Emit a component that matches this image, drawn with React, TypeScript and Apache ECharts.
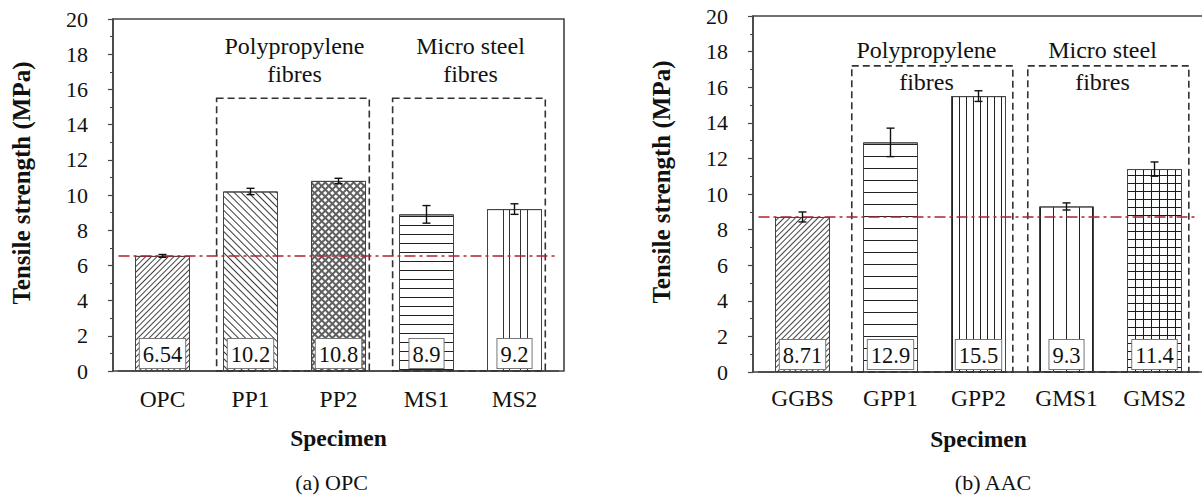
import { useEffect, useRef } from 'react';
import * as echarts from 'echarts';

// Splitting tensile strength of the plain and fibre-reinforced mixes
const opcSpecimens = ['OPC', 'PP1', 'PP2', 'MS1', 'MS2'];
const opcStrength = [6.54, 10.2, 10.8, 8.9, 9.2];
const opcDeviation = [0.08, 0.18, 0.15, 0.5, 0.3];

const aacSpecimens = ['GGBS', 'GPP1', 'GPP2', 'GMS1', 'GMS2'];
const aacStrength = [8.71, 12.9, 15.5, 9.3, 11.4];
const aacDeviation = [0.28, 0.8, 0.3, 0.2, 0.4];

// Fibre families, as index ranges into the specimen lists
const fibreGroups = ['Polypropylene\nfibres', 'Micro steel\nfibres'];
const fibreSpans = [
  [1, 2],
  [3, 4],
];
const opcGroupTop = 15.5;
const aacGroupTop = 17.2;

const strengthMin = 0;
const strengthMax = 20;
const strengthStep = 2;

const captions = ['(a) OPC', '(b) AAC'];
const yTitle = 'Tensile strength (MPa)';
const xTitle = 'Specimen';

const SERIF = "'Liberation Serif', 'Times New Roman', serif";
const INK = '#111';
const AXIS = '#444';
const REF_RED = '#b0232c';

type Fill = { base: string; decal: any };

const lines = (dx: number[], dy: number[], rotation: number, color: string, base = '#fff'): Fill => ({
  base,
  decal: {
    symbol: 'rect',
    symbolSize: 1,
    color,
    dashArrayX: [dx],
    dashArrayY: dy,
    rotation,
  },
});

// Fill patterns per bar (base colour + hatch overlay)
const opcFills = [
  lines([8, 0], [1, 3], -Math.PI / 4, '#444'),
  lines([8, 0], [1, 4], Math.PI / 4, '#3a3a3a'),
  lines([3, 2], [3, 2], Math.PI / 4, '#ffffff', '#606060'),
  lines([8, 0], [1, 8], 0, '#222'),
  lines([1, 6, 1, 15, 1, 5, 1, 10], [8, 0], 0, '#333'),
];
const aacFills = [
  lines([8, 0], [1, 3], -Math.PI / 4, '#444'),
  lines([8, 0], [1, 11], 0, '#222'),
  lines([1, 6], [8, 0], 0, '#222'),
  lines([1, 12], [8, 0], 0, '#222'),
  lines([7, 1], [7, 1], 0, '#ffffff', '#1a1a1a'),
];

type Layout = {
  gridLeft: number;
  gridTop: number;
  gridHeight: number;
  padL: number;
  padR: number;
  labelDx: number;
  labelDy: number;
  lineHeight: number;
  labelMargin: number;
};

const layouts: Layout[] = [
  { gridLeft: 118.5, gridTop: 19, gridHeight: 352, padL: 0.385, padR: 0.35, labelDx: 0, labelDy: -38, lineHeight: 28, labelMargin: 16 },
  { gridLeft: 758.5, gridTop: 16, gridHeight: 356, padL: 0.44, padR: 0.39, labelDx: -8, labelDy: 0, lineHeight: 32, labelMargin: 14 },
];
const GRID_W = 440;
const AXIS_SHIFT = 5.5;

function barSeries(idx: number, values: number[], fills: Fill[]) {
  return {
    type: 'bar',
    xAxisIndex: idx,
    yAxisIndex: idx,
    barWidth: 55,
    data: values.map((v, i) => ({
      value: v,
      itemStyle: { color: fills[i].base, decal: fills[i].decal },
    })),
    itemStyle: { borderColor: '#444', borderWidth: 1 },
    label: {
      show: true,
      position: 'insideBottom',
      distance: 3,
      color: INK,
      fontFamily: SERIF,
      fontSize: 22.5,
      lineHeight: 25,
      backgroundColor: '#fff',
      borderColor: '#777',
      borderWidth: 1,
      padding: [3, 3, 1, 3],
    },
  };
}

function errorSeries(idx: number, values: number[], devs: number[], ref: number) {
  return {
    type: 'custom',
    xAxisIndex: idx,
    yAxisIndex: idx,
    z: 6,
    data: values.map((v, i) => [i, v, devs[i]]),
    encode: { x: 0, y: 1 },
    renderItem: (_p: any, api: any) => {
      const i = api.value(0);
      const v = api.value(1);
      const d = api.value(2);
      const hi = api.coord([i, v + d]);
      const lo = api.coord([i, v - d]);
      const cap = 4;
      const style = { stroke: '#111', lineWidth: 1.4 };
      return {
        type: 'group',
        children: [
          { type: 'line', shape: { x1: hi[0], y1: hi[1], x2: lo[0], y2: lo[1] }, style },
          { type: 'line', shape: { x1: hi[0] - cap, y1: hi[1], x2: hi[0] + cap, y2: hi[1] }, style },
          { type: 'line', shape: { x1: lo[0] - cap, y1: lo[1], x2: lo[0] + cap, y2: lo[1] }, style },
        ],
      };
    },
    markLine: {
      silent: true,
      symbol: 'none',
      animation: false,
      data: [{ yAxis: ref }],
      lineStyle: { color: REF_RED, width: 1.7, type: [11, 4, 3, 4] },
      label: { show: false },
    },
  };
}

function groupSeries(idx: number, top: number, lay: Layout) {
  return {
    type: 'custom',
    xAxisIndex: idx,
    yAxisIndex: idx,
    z: 4,
    data: fibreSpans.map(([a, b], k) => [a, b, top, k]),
    encode: { x: 0, y: 2 },
    renderItem: (_p: any, api: any) => {
      const a = api.value(0);
      const b = api.value(1);
      const t = api.value(2);
      const k = api.value(3);
      const band = api.size([1, 0])[0];
      const p0 = api.coord([a, t]);
      const p1 = api.coord([b, 0]);
      const x0 = p0[0] - band * lay.padL;
      const x1 = p1[0] + band * lay.padR;
      return {
        type: 'group',
        children: [
          {
            type: 'rect',
            shape: { x: x0, y: p0[1], width: x1 - x0, height: p1[1] - p0[1] },
            style: { fill: 'none', stroke: '#333', lineWidth: 1.6, lineDash: [7, 4] },
          },
          {
            type: 'text',
            x: (p0[0] + p1[0]) / 2 + lay.labelDx,
            y: p0[1] + lay.labelDy,
            style: {
              text: fibreGroups[k],
              fill: INK,
              fontFamily: SERIF,
              fontSize: 24,
              lineHeight: lay.lineHeight,
              align: 'center',
              verticalAlign: 'middle',
            },
          },
        ],
      };
    },
  };
}

function xAxis(idx: number, cats: string[], lay: Layout) {
  return {
    type: 'category',
    gridIndex: idx,
    data: cats,
    axisLine: { show: true, lineStyle: { color: AXIS, width: 1.5 } },
    axisTick: { show: false },
    axisLabel: { color: INK, fontFamily: SERIF, fontSize: 23.5, margin: lay.labelMargin },
    name: xTitle,
    nameLocation: 'middle',
    nameGap: 55,
    nameTextStyle: { color: INK, fontFamily: SERIF, fontSize: 23.5, fontWeight: 'bold' },
  };
}

function yAxis(idx: number) {
  return {
    type: 'value',
    gridIndex: idx,
    min: strengthMin,
    max: strengthMax,
    interval: strengthStep,
    offset: AXIS_SHIFT,
    axisLine: { show: true, lineStyle: { color: AXIS, width: 1.5 } },
    axisTick: { show: true, length: 5, lineStyle: { color: AXIS, width: 1.2 } },
    minorTick: { show: true, splitNumber: 2, length: 3, lineStyle: { color: AXIS, width: 1 } },
    splitLine: { show: false },
    axisLabel: { color: INK, fontFamily: SERIF, fontSize: 22, margin: 25 },
    name: yTitle,
    nameLocation: 'middle',
    nameGap: 79,
    nameTextStyle: {
      color: INK,
      fontFamily: SERIF,
      fontSize: 25,
      fontWeight: 'bold',
      padding: [0, 0, 0, 24],
    },
  };
}

export default function App() {
  const ref = useRef<HTMLDivElement>(null);

  useEffect(() => {
    if (!ref.current) return;
    const chart = echarts.init(ref.current, undefined, { renderer: 'svg' });

    const frames = layouts.map((lay) => ({
      type: 'rect',
      silent: true,
      z: 1,
      shape: {
        x: lay.gridLeft - AXIS_SHIFT,
        y: lay.gridTop,
        width: GRID_W + 2 * AXIS_SHIFT,
        height: lay.gridHeight,
      },
      style: { fill: 'none', stroke: AXIS, lineWidth: 1.6 },
    }));

    const captionText = captions.map((c, i) => ({
      type: 'text',
      silent: true,
      x: i === 0 ? 331.5 : 993,
      y: 482,
      style: {
        text: c,
        fill: INK,
        fontFamily: SERIF,
        fontSize: 22,
        align: 'center',
        verticalAlign: 'middle',
      },
    }));

    chart.setOption({
      animation: false,
      backgroundColor: '#fff',
      grid: layouts.map((lay) => ({
        left: lay.gridLeft,
        top: lay.gridTop,
        width: GRID_W,
        height: lay.gridHeight,
        containLabel: false,
      })),
      xAxis: [xAxis(0, opcSpecimens, layouts[0]), xAxis(1, aacSpecimens, layouts[1])],
      yAxis: [yAxis(0), yAxis(1)],
      series: [
        barSeries(0, opcStrength, opcFills),
        groupSeries(0, opcGroupTop, layouts[0]),
        errorSeries(0, opcStrength, opcDeviation, opcStrength[0]),
        barSeries(1, aacStrength, aacFills),
        groupSeries(1, aacGroupTop, layouts[1]),
        errorSeries(1, aacStrength, aacDeviation, aacStrength[0]),
      ],
      graphic: [...frames, ...captionText],
    });

    return () => chart.dispose();
  }, []);

  return (
    <div
      ref={ref}
      style={{ position: 'absolute', left: 0, top: 0, width: 1202, height: 495, background: '#fff' }}
    />
  );
}
